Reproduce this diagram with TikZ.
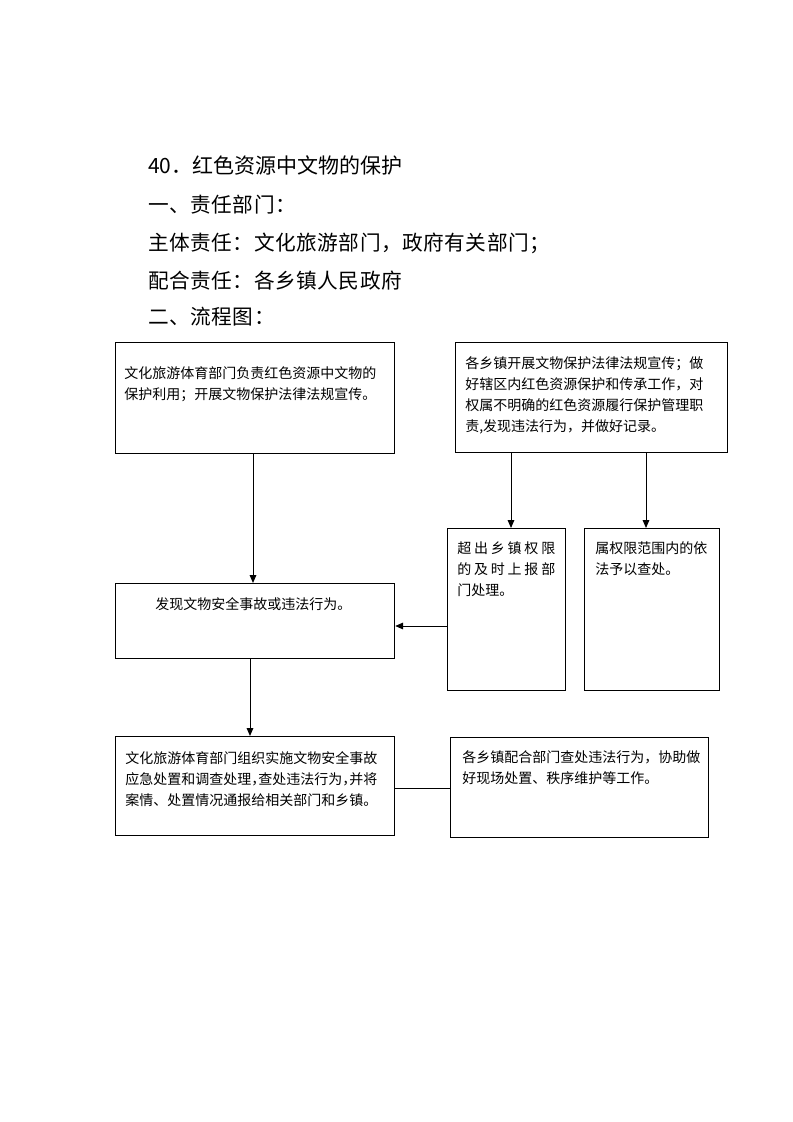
\documentclass[tikz,border=0pt]{standalone}
\usepackage{fontspec}
\setmainfont{Noto Sans CJK SC}
\newfontfamily\headspaced[LetterSpace=2.5]{Noto Sans CJK SC}
\usetikzlibrary{arrows.meta}
\newcommand\hcomma{，\kern-0.5em}
\begin{document}
\begin{tikzpicture}[x=0.75pt,y=-0.75pt,
  box/.style={draw, line width=0.9pt, inner sep=0, anchor=north west},
  txt/.style={anchor=north west, inner sep=0, align=left, font=\fontsize{10.5pt}{15.9pt}\selectfont},
  head/.style={anchor=north west, inner sep=0, font=\headspaced\fontsize{15.5pt}{18pt}\selectfont},
  arr/.style={-{Triangle[length=6pt,width=5pt]}, line width=0.75pt},
  link/.style={line width=0.75pt}]
\fill[white] (0,0) rectangle (793,1122);
\useasboundingbox (0,0) rectangle (793,1122);
% headings
\node[head, font=\rmfamily\fontsize{15.75pt}{18pt}\selectfont] (h1) at (148,155) {40．红色资源中文物的保护};
\node[head] (h2) at (148,195) {一、责任部门：};
\node[head] (h3) at (148,233) {主体责任：文化旅游部门，政府有关部门；};
\node[head] (h4) at (148,271) {配合责任：各乡镇人民政府};
\node[head] (h5) at (148,307) {二、流程图：};
% boxes
\node[box, minimum width=209.25pt, minimum height=83.25pt] (A) at (115,342) {};
\node[box, minimum width=204pt, minimum height=82.5pt] (B) at (455,342) {};
\node[box, minimum width=88.5pt, minimum height=121.5pt] (C) at (447,528) {};
\node[box, minimum width=101.25pt, minimum height=121.5pt] (D) at (584,528) {};
\node[box, minimum width=209.25pt, minimum height=56.25pt] (E) at (115,583) {};
\node[box, minimum width=209.25pt, minimum height=74.25pt] (F) at (115,736) {};
\node[box, minimum width=193.5pt, minimum height=75pt] (G) at (450,737) {};
% texts
\node[txt] (tA) at (124,366) {文化旅游体育部门负责红色资源中文物的\\保护利用；开展文物保护法律法规宣传。};
\node[txt] (tB) at (465,356) {各乡镇开展文物保护法律法规宣传；做\\好辖区内红色资源保护和传承工作，对\\权属不明确的红色资源履行保护管理职\\责,发现违法行为，并做好记录。};
\node[txt] (tC) at (457,541) {\makebox[73.5pt][s]{超\hfill 出\hfill 乡\hfill 镇\hfill 权\hfill 限}\\\makebox[73.5pt][s]{的\hfill 及\hfill 时\hfill 上\hfill 报\hfill 部}\\门处理。};
\node[txt] (tD) at (595,541) {属权限范围内的依\\法予以查处。};
\node[txt] (tE) at (155,597) {发现文物安全事故或违法行为。};
\node[txt] (tF) at (125,751) {文化旅游体育部门组织实施文物安全事故\\应急处置和调查处理\hcomma 查处违法行为\hcomma 并将\\案情、处置情况通报给相关部门和乡镇。};
\node[txt] (tG) at (462,750) {各乡镇配合部门查处违法行为，协助做\\好现场处置、秩序维护等工作。};
% connectors
\coordinate (xBC) at (511,0);
\coordinate (xBD) at (646,0);
\coordinate (yCE) at (0,626);
\coordinate (xEF) at (250,0);
\coordinate (yFG) at (0,788);
\coordinate (xAE) at (253,0);
\draw[arr] (A.south -| xAE) -- (E.north -| xAE);
\draw[arr] (B.south -| xBC) -- (C.north -| xBC);
\draw[arr] (B.south -| xBD) -- (D.north -| xBD);
\draw[arr] (yCE -| C.west) -- (yCE -| E.east);
\draw[arr] (E.south -| xEF) -- (F.north -| xEF);
\draw[link] (yFG -| F.east) -- (yFG -| G.west);
\end{tikzpicture}
\end{document}
